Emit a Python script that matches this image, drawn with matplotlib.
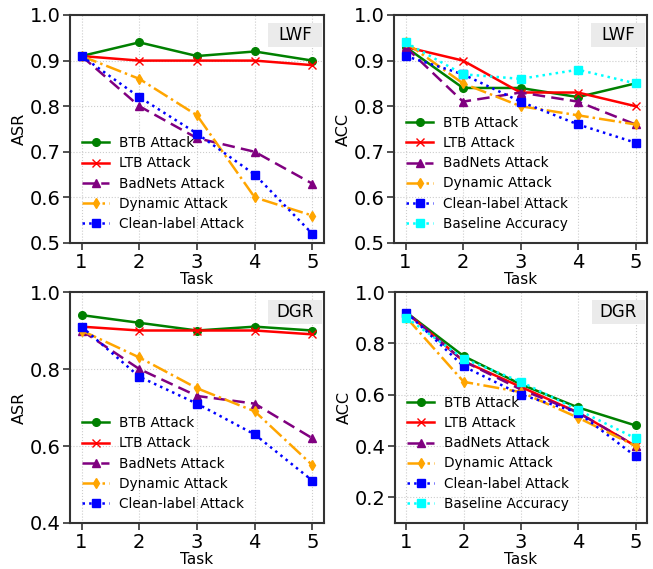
import matplotlib
matplotlib.use("Agg")
import matplotlib.pyplot as plt
from matplotlib.patches import Rectangle

tasks = [1, 2, 3, 4, 5]

# LWF - ASR
lwf_asr_btb = [0.91, 0.94, 0.91, 0.92, 0.90]
lwf_asr_ltb = [0.91, 0.90, 0.90, 0.90, 0.89]
lwf_asr_badnets = [0.91, 0.80, 0.73, 0.70, 0.63]
lwf_asr_dynamic = [0.91, 0.86, 0.78, 0.60, 0.56]
lwf_asr_clean = [0.91, 0.82, 0.74, 0.65, 0.52]

# LWF - ACC
lwf_acc_btb = [0.93, 0.84, 0.84, 0.82, 0.85]
lwf_acc_ltb = [0.93, 0.90, 0.83, 0.83, 0.80]
lwf_acc_badnets = [0.93, 0.81, 0.83, 0.81, 0.76]
lwf_acc_dynamic = [0.94, 0.85, 0.80, 0.78, 0.76]
lwf_acc_clean = [0.91, 0.87, 0.81, 0.76, 0.72]
lwf_acc_baseline = [0.94, 0.87, 0.86, 0.88, 0.85]

# DGR - ASR
dgr_asr_btb = [0.94, 0.92, 0.90, 0.91, 0.90]
dgr_asr_ltb = [0.91, 0.90, 0.90, 0.90, 0.89]
dgr_asr_badnets = [0.90, 0.80, 0.73, 0.71, 0.62]
dgr_asr_dynamic = [0.90, 0.83, 0.75, 0.69, 0.55]
dgr_asr_clean = [0.91, 0.78, 0.71, 0.63, 0.51]

# DGR - ACC
dgr_acc_btb = [0.92, 0.75, 0.64, 0.55, 0.48]
dgr_acc_ltb = [0.92, 0.73, 0.63, 0.53, 0.40]
dgr_acc_badnets = [0.92, 0.73, 0.62, 0.53, 0.40]
dgr_acc_dynamic = [0.90, 0.65, 0.61, 0.51, 0.40]
dgr_acc_clean = [0.92, 0.71, 0.60, 0.53, 0.36]
dgr_acc_baseline = [0.90, 0.74, 0.65, 0.54, 0.43]

labels = ["BTB Attack", "LTB Attack", "BadNets Attack", "Dynamic Attack",
          "Clean-label Attack", "Baseline Accuracy"]
styles = [
    dict(color="green", linestyle="-", marker="o"),
    dict(color="red", linestyle="-", marker="x"),
    dict(color="purple", linestyle="--", marker="^", dashes=(5, 2.5)),
    dict(color="orange", linestyle="-.", marker="d"),
    dict(color="blue", linestyle=":", marker="s"),
    dict(color="cyan", linestyle=":", marker="s"),
]


def draw(ax, series, ylabel, tag, ylim, yticks):
    for i, vals in enumerate(series):
        ax.plot(tasks, vals, label=labels[i], linewidth=1.8, markersize=5.5, **styles[i])
    ax.set_xlim(0.8, 5.2)
    ax.set_ylim(*ylim)
    ax.set_yticks(yticks)
    ax.set_xticks(tasks)
    ax.set_xlabel("Task", fontsize=11, labelpad=0)
    ax.set_ylabel(ylabel, fontsize=11.5, labelpad=2)
    ax.tick_params(labelsize=14, length=5, width=1.2, color="#333333", pad=2)
    for s in ax.spines.values():
        s.set_color("#333333")
        s.set_linewidth(1.5)
    ax.grid(True, color="#cccccc", linestyle=":", linewidth=0.8)
    ax.legend(loc="lower left", frameon=False, fontsize=9.8,
              labelspacing=0.45, handletextpad=0.7, handlelength=2.0)
    ax.add_patch(Rectangle((0.78, 0.86), 0.213, 0.105, transform=ax.transAxes,
                           facecolor="#ebebeb", edgecolor="none", zorder=3))
    ax.text(0.887, 0.913, tag, transform=ax.transAxes, ha="center", va="center",
            fontsize=12, zorder=4)


fig = plt.figure(figsize=(6.53, 5.69), dpi=100)
W, H = 653, 569


def add(l, t, r, b):
    return fig.add_axes([l / W, 1 - b / H, (r - l) / W, (b - t) / H])


ax1 = add(70, 15, 324, 243)
ax2 = add(394, 15, 647, 243)
ax3 = add(70, 292, 324, 523)
ax4 = add(395, 292, 647, 523)

draw(ax1, [lwf_asr_btb, lwf_asr_ltb, lwf_asr_badnets, lwf_asr_dynamic, lwf_asr_clean],
     "ASR", "LWF", (0.5, 1.0), [0.5, 0.6, 0.7, 0.8, 0.9, 1.0])
draw(ax2, [lwf_acc_btb, lwf_acc_ltb, lwf_acc_badnets, lwf_acc_dynamic, lwf_acc_clean,
           lwf_acc_baseline],
     "ACC", "LWF", (0.5, 1.0), [0.5, 0.6, 0.7, 0.8, 0.9, 1.0])
draw(ax3, [dgr_asr_btb, dgr_asr_ltb, dgr_asr_badnets, dgr_asr_dynamic, dgr_asr_clean],
     "ASR", "DGR", (0.4, 1.0), [0.4, 0.6, 0.8, 1.0])
draw(ax4, [dgr_acc_btb, dgr_acc_ltb, dgr_acc_badnets, dgr_acc_dynamic, dgr_acc_clean,
           dgr_acc_baseline],
     "ACC", "DGR", (0.1, 1.0), [0.2, 0.4, 0.6, 0.8, 1.0])

fig.savefig("out.png", dpi=100)
